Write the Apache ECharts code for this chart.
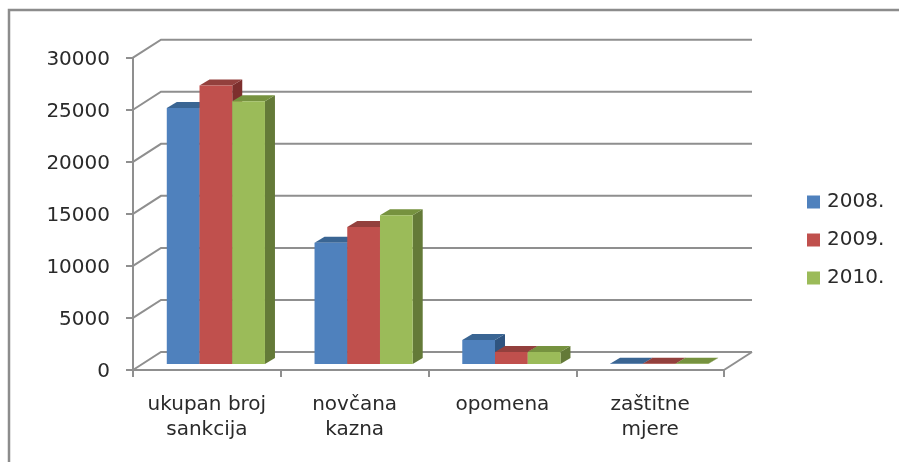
<!DOCTYPE html>
<html><head><meta charset="utf-8">
<style>html,body{margin:0;padding:0;background:#fff}#c{width:899px;height:462px;filter:blur(0.45px)}</style>
<script src="https://cdn.jsdelivr.net/npm/echarts@6/dist/echarts.min.js"></script>
</head><body><div id="c"></div>
<script>
const categories = ['ukupan broj\nsankcija', 'novčana\nkazna', 'opomena', 'zaštitne\nmjere'];
const years = ['2008.', '2009.', '2010.'];
const values2008 = [24600, 11650, 2300, 30];
const values2009 = [26750, 13150, 1150, 20];
const values2010 = [25250, 14300, 1150, 20];
const yTicks = [0, 5000, 10000, 15000, 20000, 25000, 30000];

const faces = [
  {front: '#4f81bd', top: '#3a6593', side: '#2f5480'},
  {front: '#c0504d', top: '#93403d', side: '#7d2f2d'},
  {front: '#9bbb59', top: '#76923f', side: '#647a38'}
];
const WALL_DX = 28, WALL_DY = -18;   // back wall offset
const BAR_DX = 9, BAR_DY = -6;       // bar front plane offset
const DEPTH_DX = 10, DEPTH_DY = -6;  // bar depth
const GRAY = '#8f8f8f';
const LW = 2;

function poly(pts, fill) {
  return {type: 'polygon', shape: {points: pts}, style: {fill: fill, stroke: null}};
}
function barItem(sIdx) {
  return function (params, api) {
    const cat = api.value(0), v = api.value(1);
    const base = api.coord([cat, 0]), top = api.coord([cat, v]);
    const band = api.size([1, 0])[0];
    const w = band * 0.2215;
    const x0 = base[0] + BAR_DX + (sIdx - 1.5) * w;
    const x1 = x0 + w;
    const yb = base[1] + BAR_DY, yt = top[1] + BAR_DY;
    const dx = DEPTH_DX, dy = DEPTH_DY, f = faces[sIdx];
    return {type: 'group', children: [
      poly([[x1, yb], [x1 + dx, yb + dy], [x1 + dx, yt + dy], [x1, yt]], f.side),
      poly([[x0, yt], [x0 + dx, yt + dy], [x1 + dx, yt + dy], [x1, yt]], f.top),
      poly([[x0, yb], [x1, yb], [x1, yt], [x0, yt]], f.front)
    ]};
  };
}
function wallItem(params, api) {
  const v = api.value(0);
  const p0 = api.coord([0, v]);
  const band = api.size([1, 0])[0];
  const xL = p0[0] - band / 2, y = p0[1];
  const xR = xL + band * categories.length;
  const ls = {stroke: GRAY, lineWidth: LW, fill: null};
  const kids = [
    {type: 'polyline', shape: {points: [[xL, y], [xL + WALL_DX, y + WALL_DY], [xR + WALL_DX, y + WALL_DY]]}, style: ls}
  ];
  if (v === 0) kids.push({type: 'line', shape: {x1: xR, y1: y, x2: xR + WALL_DX, y2: y + WALL_DY}, style: ls});
  return {type: 'group', children: kids};
}
const bars = [values2008, values2009, values2010].map((vals, i) => ({
  name: years[i], type: 'custom', coordinateSystem: 'cartesian2d', renderItem: barItem(i),
  itemStyle: {color: faces[i].front}, encode: {x: 0, y: 1}, z: 3, silent: true,
  data: vals.map((v, c) => [c, v])
}));
const chart = echarts.init(document.getElementById('c'), null, {renderer: 'canvas'});
chart.setOption({
  animation: false, backgroundColor: '#fff',
  grid: {left: 133, right: 175, top: 57.7, bottom: 92, containLabel: false},
  legend: {
    data: years, orient: 'vertical', left: 802, top: 187, itemWidth: 13, itemHeight: 13, itemGap: 18,
    icon: 'rect', selectedMode: false,
    textStyle: {fontFamily: 'DejaVu Sans', fontSize: 20, color: '#2a2a2a', padding: [0, 0, 0, 2]}
  },
  xAxis: {
    type: 'category', data: categories,
    axisLine: {lineStyle: {color: GRAY, width: LW}},
    axisTick: {show: true, length: 7, alignWithLabel: false, lineStyle: {color: GRAY, width: LW}},
    axisLabel: {fontFamily: 'DejaVu Sans', fontSize: 20, lineHeight: 25, color: '#2a2a2a', margin: 22.5, interval: 0},
    splitLine: {show: false}
  },
  yAxis: {
    type: 'value', min: 0, max: 30000, interval: 5000,
    axisLine: {show: true, lineStyle: {color: GRAY, width: LW}},
    axisTick: {show: true, length: 7, lineStyle: {color: GRAY, width: LW}},
    axisLabel: {margin: 23, formatter: v => '{n|' + v + '}',
      rich: {n: {fontFamily: 'DejaVu Sans', fontSize: 20, color: '#2a2a2a', padding: [4, 0, 0, 0]}}},
    splitLine: {show: false}
  },
  graphic: [{type: 'polyline', silent: true, z: 0,
    shape: {points: [[9, 470], [9, 10], [910, 10]]}, style: {stroke: '#8c8c8c', lineWidth: 2.5, fill: null}}],
  series: [{
    type: 'custom', name: 'wall', coordinateSystem: 'cartesian2d', renderItem: wallItem, z: 1, silent: true,
    encode: {y: 0}, data: yTicks.map(v => [v])
  }].concat(bars)
});
</script></body></html>
